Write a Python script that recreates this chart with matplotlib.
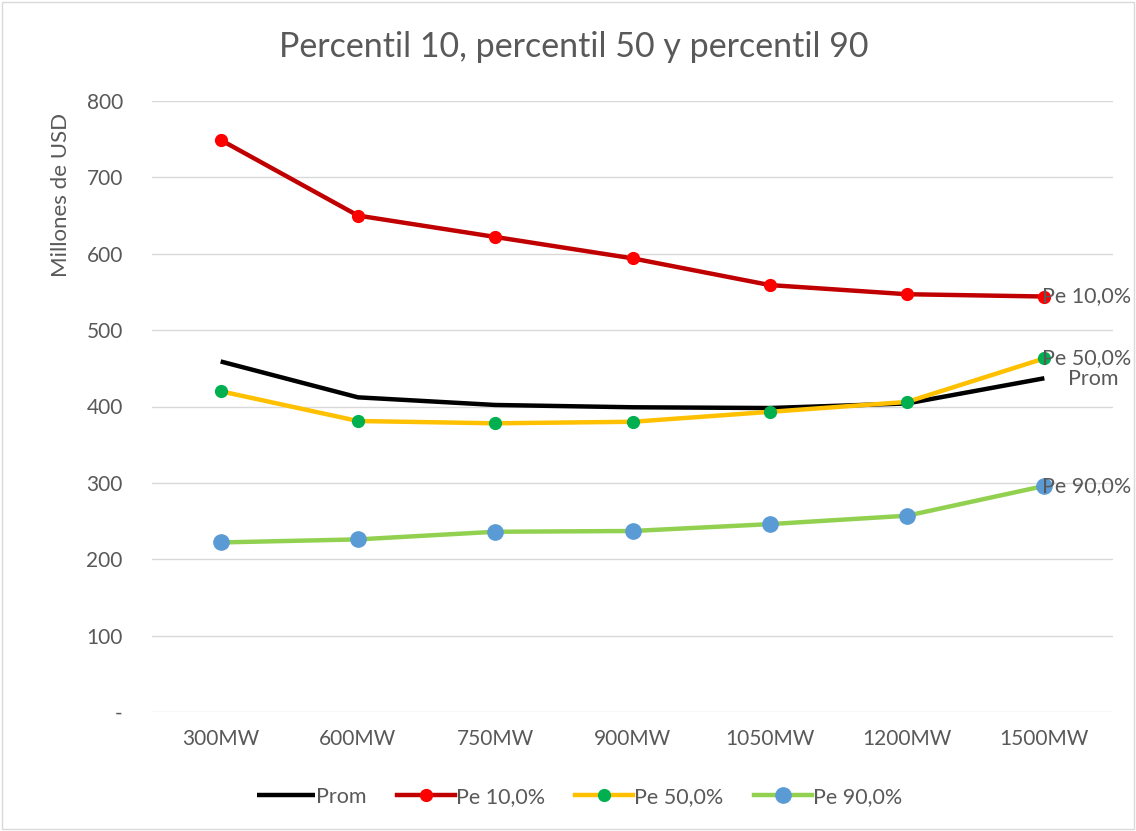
import matplotlib.pyplot as plt
import numpy as np

plt.rcParams['font.family'] = ['Lato', 'DejaVu Sans']

# capacidades y series (millones de USD)
categorias = ['300MW', '600MW', '750MW', '900MW', '1050MW', '1200MW', '1500MW']
prom = [459, 412, 402, 399, 398, 404, 437]
pe10 = [749, 650, 622, 594, 559, 547, 544]
pe50 = [420, 381, 378, 380, 393, 406, 463]
pe90 = [222, 226, 236, 237, 246, 257, 296]
yticks = [0, 100, 200, 300, 400, 500, 600, 700, 800]
yticklabels = ['-', '100', '200', '300', '400', '500', '600', '700', '800']

gris = '#595959'
x = np.arange(len(categorias))

fig = plt.figure(figsize=(11.36, 8.31), dpi=100)
ax = fig.add_axes([152 / 1136, 1 - 712 / 831, (1113 - 152) / 1136, (712 - 101) / 831])

ax.plot(x, prom, color='black', lw=3.2, label='Prom', solid_capstyle='butt', zorder=3)
ax.plot(x, pe10, color='#c00000', lw=3.2, marker='o', ms=8.5,
        mfc='#ff0000', mec='#ff0000', label='Pe 10,0%', zorder=3)
ax.plot(x, pe50, color='#ffc000', lw=3.2, marker='o', ms=8.5,
        mfc='#00b050', mec='#00b050', label='Pe 50,0%', zorder=3)
ax.plot(x, pe90, color='#92d050', lw=3.2, marker='o', ms=11,
        mfc='#5b9bd5', mec='#5b9bd5', label='Pe 90,0%', zorder=3)

# etiquetas al final de cada serie
last = len(categorias) - 1
for serie, txt in [(pe10, 'Pe 10,0%'), (pe50, 'Pe 50,0%'), (pe90, 'Pe 90,0%')]:
    ax.annotate(txt, (x[last], serie[last]), xytext=(-2, 0), textcoords='offset points',
                ha='left', va='center', fontsize=15.5, color=gris, annotation_clip=False)
ax.annotate('Prom', (x[last], pe50[last]), xytext=(35, -15), textcoords='offset points',
            ha='center', va='center', fontsize=15.5, color=gris, annotation_clip=False)

ax.set_xlim(-0.5, len(categorias) - 0.5)
ax.set_ylim(0, 800)
ax.set_yticks(yticks)
ax.set_yticklabels(yticklabels)
ax.set_xticks(x)
ax.set_xticklabels(categorias)
ax.tick_params(axis='both', length=0, labelsize=15, labelcolor=gris)
ax.tick_params(axis='y', pad=21)
ax.tick_params(axis='x', pad=12)
ax.grid(axis='y', color='#d9d9d9', lw=1)
ax.set_axisbelow(True)
for s in ax.spines.values():
    s.set_visible(False)

ax.set_ylabel('Millones de USD', fontsize=16, color=gris)
ax.yaxis.set_label_coords(-0.084, 0.846)
fig.text(0.505, 1 - 47 / 831, 'Percentil 10, percentil 50 y percentil 90',
         ha='center', va='center', fontsize=24.5, color=gris)

fig.legend(loc='center', bbox_to_anchor=(0.51, 1 - 797 / 831), ncol=4, frameon=False,
           fontsize=15.5, labelcolor=gris, handlelength=2.7, columnspacing=1.4, handletextpad=0.05)

fig.patches.append(plt.Rectangle((0.002, 0.002), 0.996, 0.996, transform=fig.transFigure,
                                 fill=False, edgecolor='#d9d9d9', lw=1))

fig.savefig('out.png', dpi=100)
